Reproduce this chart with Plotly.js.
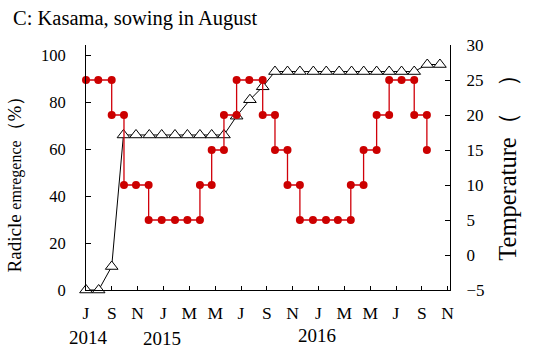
<!DOCTYPE html>
<html>
<head>
<meta charset="utf-8">
<script src="https://cdn.plot.ly/plotly-3.0.1.min.js"></script>
<style>html,body{margin:0;padding:0;background:#fff;}#chart{width:533px;height:348px;}</style>
</head>
<body>
<div id="chart"></div>
<script>
// Month index: 0 = July 2014
var monthTickVals = [0, 2, 4, 6, 8, 10, 12, 14, 16, 18, 20, 22, 24, 26, 28];
var monthTickText = ["J", "S", "N", "J", "M", "M", "J", "S", "N", "J", "M", "M", "J", "S", "N"];

// Radicle emergence (%) - open triangles, left axis
var emergenceMonth = [0, 0.98, 1.99, 2.9, 3.87, 4.9, 5.86, 6.89, 7.85, 8.82, 9.73, 10.68, 11.66, 12.69, 13.68, 14.63, 15.6, 16.56, 17.6, 18.6, 19.6, 20.56, 21.5, 22.5, 23.47, 24.43, 25.41, 26.42, 27.4];
var emergenceValue = [0, 0, 10, 66, 66, 66, 66, 66, 66, 66, 66, 66, 74, 81, 86.5, 93, 93, 93, 93, 93, 93, 93, 93, 93, 93, 93, 93, 96, 96];

// Temperature (step profile) - red dots, right axis
var tempMonth = [0, 0.95, 1.99, 1.99, 2.94, 2.94, 3.87, 4.85, 4.85, 5.86, 6.89, 7.85, 8.82, 8.82, 9.73, 9.73, 10.68, 10.68, 11.66, 11.66, 12.64, 13.68, 13.68, 14.63, 14.63, 15.6, 15.6, 16.56, 16.56, 17.57, 18.58, 19.5, 20.5, 20.5, 21.49, 21.49, 22.5, 22.5, 23.47, 23.47, 24.43, 25.41, 25.41, 26.39, 26.39];
var tempValue = [25, 25, 25, 20, 20, 10, 10, 10, 5, 5, 5, 5, 5, 10, 10, 15, 15, 20, 20, 25, 25, 25, 20, 20, 15, 15, 10, 10, 5, 5, 5, 5, 5, 10, 10, 15, 15, 20, 20, 25, 25, 25, 20, 20, 15];

var yearLabels = ["2014", "2015", "2016"];
var yearPos = [0.2, 5.9, 17.9];
var yearY = [-0.192, -0.196, -0.184];

var FONT = "Liberation Serif";
var PAD = "<span style='fill-opacity:0;font-size:24px'>";

var traces = [
  {
    x: emergenceMonth, y: emergenceValue, type: "scatter", mode: "lines+markers",
    yaxis: "y", cliponaxis: false,
    line: {color: "#000", width: 1},
    marker: {symbol: "triangle-up", size: 11, color: "#fff", line: {color: "#000", width: 1}},
    showlegend: false, hoverinfo: "x+y"
  },
  {
    x: tempMonth, y: tempValue, type: "scatter", mode: "lines+markers",
    yaxis: "y2", cliponaxis: false,
    line: {color: "#d0000a", width: 1.3},
    marker: {symbol: "circle", size: 8, color: "#cc0000"},
    showlegend: false, hoverinfo: "x+y"
  }
];

var annotations = yearLabels.map(function (t, i) {
  return {text: t, x: yearPos[i], xref: "x", y: yearY[i], yref: "paper",
    showarrow: false, xanchor: "center", yanchor: "middle",
    font: {family: FONT, size: 19, color: "#000"}};
});

var layout = {
  width: 533, height: 348,
  margin: {l: 86, r: 83, t: 45, b: 58, pad: 0},
  paper_bgcolor: "#fff", plot_bgcolor: "#fff",
  font: {family: FONT, size: 17, color: "#000"},
  title: {text: "C: Kasama, sowing in August", x: 13 / 533, xref: "container", xanchor: "left",
    y: 1 - 18 / 348, yref: "container", yanchor: "middle",
    font: {family: FONT, size: 20.5, color: "#000"}},
  xaxis: {
    range: [0, 28.18], tickmode: "array", tickvals: monthTickVals, ticktext: monthTickText,
    ticks: "inside", ticklen: 4, tickcolor: "#000", showline: true, linecolor: "#000", linewidth: 1,
    showgrid: false, zeroline: false, ticklabelstandoff: 7,
    tickfont: {family: FONT, size: 17.5, color: "#000"}
  },
  yaxis: {
    range: [0, 104.3], tickmode: "array", tickvals: [0, 20, 40, 60, 80, 100],
    ticks: "inside", ticklen: 5, tickcolor: "#000", showline: true, linecolor: "#000", linewidth: 1,
    showgrid: false, zeroline: false, ticklabelstandoff: 16,
    tickfont: {family: FONT, size: 16.5, color: "#000"},
    title: {text: "Radicle <span style='font-size:16px'>emregence</span>（%）" + PAD + "00</span>", standoff: 14,
      font: {family: FONT, size: 19, color: "#000"}}
  },
  yaxis2: {
    overlaying: "y", side: "right", range: [-5, 30], tickmode: "array",
    tickvals: [-5, 0, 5, 10, 15, 20, 25, 30],
    ticks: "inside", ticklen: 5, tickcolor: "#000", showline: true, linecolor: "#000", linewidth: 1,
    showgrid: false, zeroline: false, ticklabelstandoff: 12,
    tickfont: {family: FONT, size: 17, color: "#000"},
    title: {text: PAD + "0</span>Temperature（\u3000）", standoff: 15,
      font: {family: FONT, size: 24.5, color: "#000"}}
  },
  annotations: annotations
};

Plotly.newPlot("chart", traces, layout, {displayModeBar: false, staticPlot: true});
</script>
</body>
</html>
